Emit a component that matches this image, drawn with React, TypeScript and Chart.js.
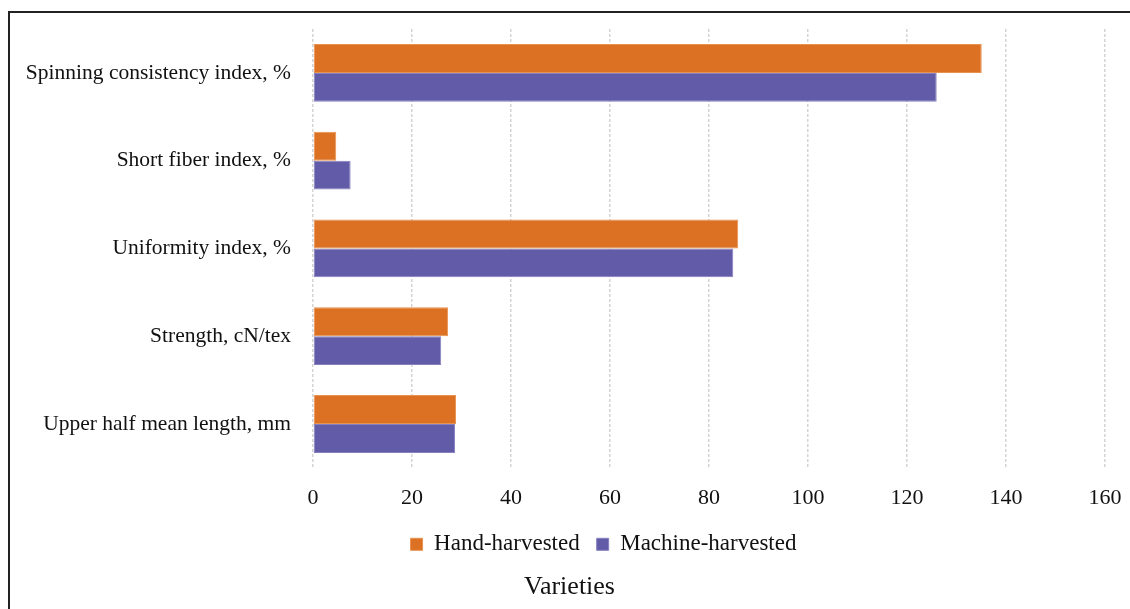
import React, { useEffect, useRef } from "react";
import { Chart, registerables } from "chart.js";

Chart.register(...registerables);

const categories = [
  "Spinning consistency index, %",
  "Short fiber index, %",
  "Uniformity index, %",
  "Strength, cN/tex",
  "Upper half mean length, mm",
];
const handHarvested = [135.1, 4.7, 85.9, 27.3, 28.9];
const machineHarvested = [126.0, 7.6, 84.9, 25.9, 28.7];
const seriesNames = ["Hand-harvested", "Machine-harvested"];
const xTicks = { min: 0, max: 160, step: 20 };
const axisTitle = "Varieties";

const FONT = "'Liberation Serif', 'Times New Roman', serif";

const boxShift = {
  id: "boxShift",
  afterLayout(chart: any) {
    if (chart.legend) {
      chart.legend.left += 46;
      chart.legend.right += 46;
    }
    if (chart.titleBlock) {
      chart.titleBlock.left += 12;
      chart.titleBlock.right += 12;
    }
  },
};

export default function App() {
  const ref = useRef<HTMLCanvasElement | null>(null);
  useEffect(() => {
    if (!ref.current) return;
    const chart = new Chart(ref.current, {
      type: "bar",
      data: {
        labels: categories,
        datasets: [
          {
            label: seriesNames[0],
            data: handHarvested,
            backgroundColor: "#DC7023",
            borderColor: "#E8924F",
            borderWidth: 1,
            borderSkipped: false,
            categoryPercentage: 0.66,
            barPercentage: 1.0,
          },
          {
            label: seriesNames[1],
            data: machineHarvested,
            backgroundColor: "#625CA8",
            borderColor: "#8580C0",
            borderWidth: 1,
            borderSkipped: false,
            categoryPercentage: 0.66,
            barPercentage: 1.0,
          },
        ],
      },
      options: {
        indexAxis: "y",
        animation: false,
        responsive: false,
        maintainAspectRatio: false,
        layout: { padding: { left: 0, right: 25, top: 16, bottom: 0 } },
        scales: {
          x: {
            min: xTicks.min,
            max: xTicks.max,
            ticks: {
              stepSize: xTicks.step,
              padding: 17,
              color: "#111",
              font: { family: FONT, size: 22 },
            },
            grid: {
              color: "#d4d4d4",
              lineWidth: 1.5,
              drawTicks: false,
            },
            border: { display: false, dash: [3, 2] },
            afterFit(scale: any) {
              scale.height = 48;
              scale.paddingLeft = 0;
              scale.paddingRight = 0;
            },
          },
          y: {
            ticks: {
              padding: 22,
              color: "#111",
              font: { family: FONT, size: 21.5 },
            },
            grid: { display: false, drawTicks: false },
            border: { display: false },
            afterFit(scale: any) {
              scale.width = 303;
              scale.paddingTop = 0;
              scale.paddingBottom = 0;
            },
          },
        },
        plugins: {
          legend: {
            position: "bottom",
            labels: {
              boxWidth: 12,
              boxHeight: 12,
              padding: 17,
              color: "#111",
              font: { family: FONT, size: 23 },
            },
          },
          title: {
            display: true,
            text: axisTitle,
            position: "bottom",
            color: "#111",
            font: { family: FONT, size: 26, weight: "normal" },
            padding: { top: 6, bottom: 6 },
          },
          tooltip: { enabled: false },
        },
      },
      plugins: [boxShift],
    } as any);
    return () => chart.destroy();
  }, []);

  return (
    <div
      style={{
        position: "fixed",
        left: 8,
        top: 11,
        right: 0,
        bottom: 0,
        borderTop: "2px solid #222",
        borderLeft: "2px solid #222",
        background: "#fff",
      }}
    >
      <canvas ref={ref} width={1120} height={596} style={{ display: "block" }} />
    </div>
  );
}
